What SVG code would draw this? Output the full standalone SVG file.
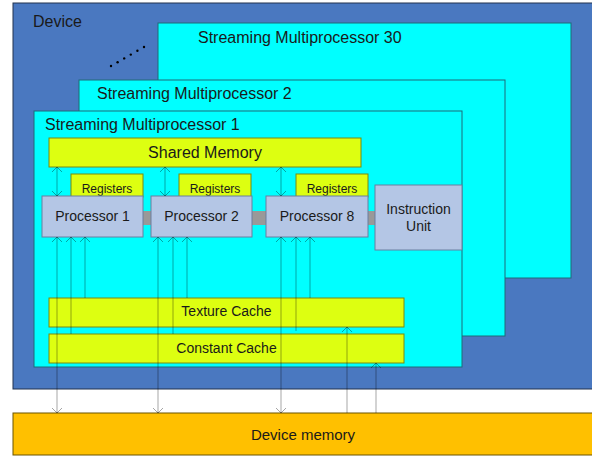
<svg xmlns="http://www.w3.org/2000/svg" width="592" height="456" viewBox="0 0 592 456">
<style>
text{font-family:"Liberation Sans",Arial,sans-serif;fill:#1a1a1a}
.sm{fill:#00FFFF;stroke:#1E6A78;stroke-width:1}
.yl{fill:#DDFF11;stroke:#7A8A10;stroke-width:1}
.pr{fill:#B4C6E5;stroke:#6A7FA0;stroke-width:1}
.gb{fill:#999999}
.t16{font-size:16px}
.t14{font-size:14px;text-anchor:middle}
.t12{font-size:12px;text-anchor:middle}
.cn line{stroke:#000;stroke-opacity:0.35;stroke-width:1}
.bi{marker-start:url(#ah);marker-end:url(#ah)}
.st{marker-start:url(#ah)}
.en{marker-end:url(#ah)}
</style>
<defs>
<marker id="ah" markerUnits="userSpaceOnUse" markerWidth="12" markerHeight="12" viewBox="0 0 12 12" refX="6" refY="6" orient="auto-start-reverse">
<path d="M1,1 L6,6 L1,11" fill="none" stroke="#000" stroke-opacity="0.35" stroke-width="1"/>
</marker>
</defs>
<rect width="592" height="456" fill="#fff"/>
<g id="device">
<rect x="13" y="3" width="590" height="386" fill="#4A78C0" stroke="#22334F" stroke-width="1"/>
<text class="t16" x="33" y="27">Device</text>
</g>
<g id="sm30">
<rect class="sm" x="158" y="23" width="413" height="255"/>
<text class="t16" x="198" y="43">Streaming Multiprocessor 30</text>
</g>
<g id="dots" fill="#000">
<circle cx="111" cy="66" r="1.2"/><circle cx="117.6" cy="62.2" r="1.2"/><circle cx="124.2" cy="58.4" r="1.2"/><circle cx="130.8" cy="54.6" r="1.2"/><circle cx="137.4" cy="50.8" r="1.2"/><circle cx="144" cy="47" r="1.2"/>
</g>
<g id="sm2">
<rect class="sm" x="79" y="80" width="426" height="256"/>
<text class="t16" x="97" y="99">Streaming Multiprocessor 2</text>
</g>
<g id="sm1">
<rect class="sm" x="34" y="111" width="428" height="256"/>
<text class="t16" x="45" y="130">Streaming Multiprocessor 1</text>
</g>
<g id="shared-memory">
<rect class="yl" x="49" y="138" width="312" height="29"/>
<text class="t14" x="205" y="158" style="font-size:16px">Shared Memory</text>
</g>
<g id="registers-1"><rect class="yl" x="71" y="174" width="72" height="23"/><text class="t12" x="107" y="193">Registers</text></g>
<g id="registers-2"><rect class="yl" x="179" y="174" width="72" height="23"/><text class="t12" x="215" y="193">Registers</text></g>
<g id="registers-8"><rect class="yl" x="296" y="174" width="72" height="23"/><text class="t12" x="332" y="193">Registers</text></g>
<g id="bus">
<rect class="gb" x="143" y="211" width="8" height="14"/>
<rect class="gb" x="252" y="211" width="14" height="14"/>
<rect class="gb" x="368" y="211" width="8" height="14"/>
</g>
<g id="processor-1"><rect class="pr" x="42" y="196" width="101" height="41"/><text class="t14" x="92.5" y="221">Processor 1</text></g>
<g id="processor-2"><rect class="pr" x="151" y="196" width="101" height="41"/><text class="t14" x="201.5" y="221">Processor 2</text></g>
<g id="processor-8"><rect class="pr" x="266" y="196" width="102" height="41"/><text class="t14" x="317" y="221">Processor 8</text></g>
<g id="instruction-unit"><rect class="pr" x="375" y="185" width="87" height="65"/><text class="t14" x="418.5" y="214">Instruction</text><text class="t14" x="418.5" y="231">Unit</text></g>
<g id="texture-cache"><rect class="yl" x="49" y="298" width="355" height="29"/><text class="t14" x="226.5" y="316">Texture Cache</text></g>
<g id="constant-cache"><rect class="yl" x="49" y="334" width="355" height="29"/><text class="t14" x="226.5" y="353">Constant Cache</text></g>
<g id="device-memory"><rect x="13" y="413" width="590" height="42" fill="#FFC000" stroke="#6B5500" stroke-width="1"/><text class="t14" x="303" y="440" style="font-size:15px">Device memory</text></g>
<g id="connectors" class="cn">
<line class="bi" x1="57" y1="167" x2="57" y2="196"/>
<line class="bi" x1="165" y1="167" x2="165" y2="196"/>
<line class="bi" x1="281" y1="167" x2="281" y2="196"/>
<line class="bi" x1="57" y1="237" x2="57" y2="413"/>
<line class="st" x1="71" y1="237" x2="71" y2="334"/>
<line class="st" x1="85" y1="237" x2="85" y2="298"/>
<line class="bi" x1="158" y1="237" x2="158" y2="413"/>
<line class="st" x1="173" y1="237" x2="173" y2="334"/>
<line class="st" x1="187" y1="237" x2="187" y2="298"/>
<line class="bi" x1="281" y1="237" x2="281" y2="413"/>
<line class="st" x1="296" y1="237" x2="296" y2="331"/>
<line class="st" x1="310" y1="237" x2="310" y2="298"/>
<line class="en" x1="347" y1="413" x2="347" y2="327"/>
<line class="en" x1="376" y1="413" x2="376" y2="363"/>
</g>
</svg>
